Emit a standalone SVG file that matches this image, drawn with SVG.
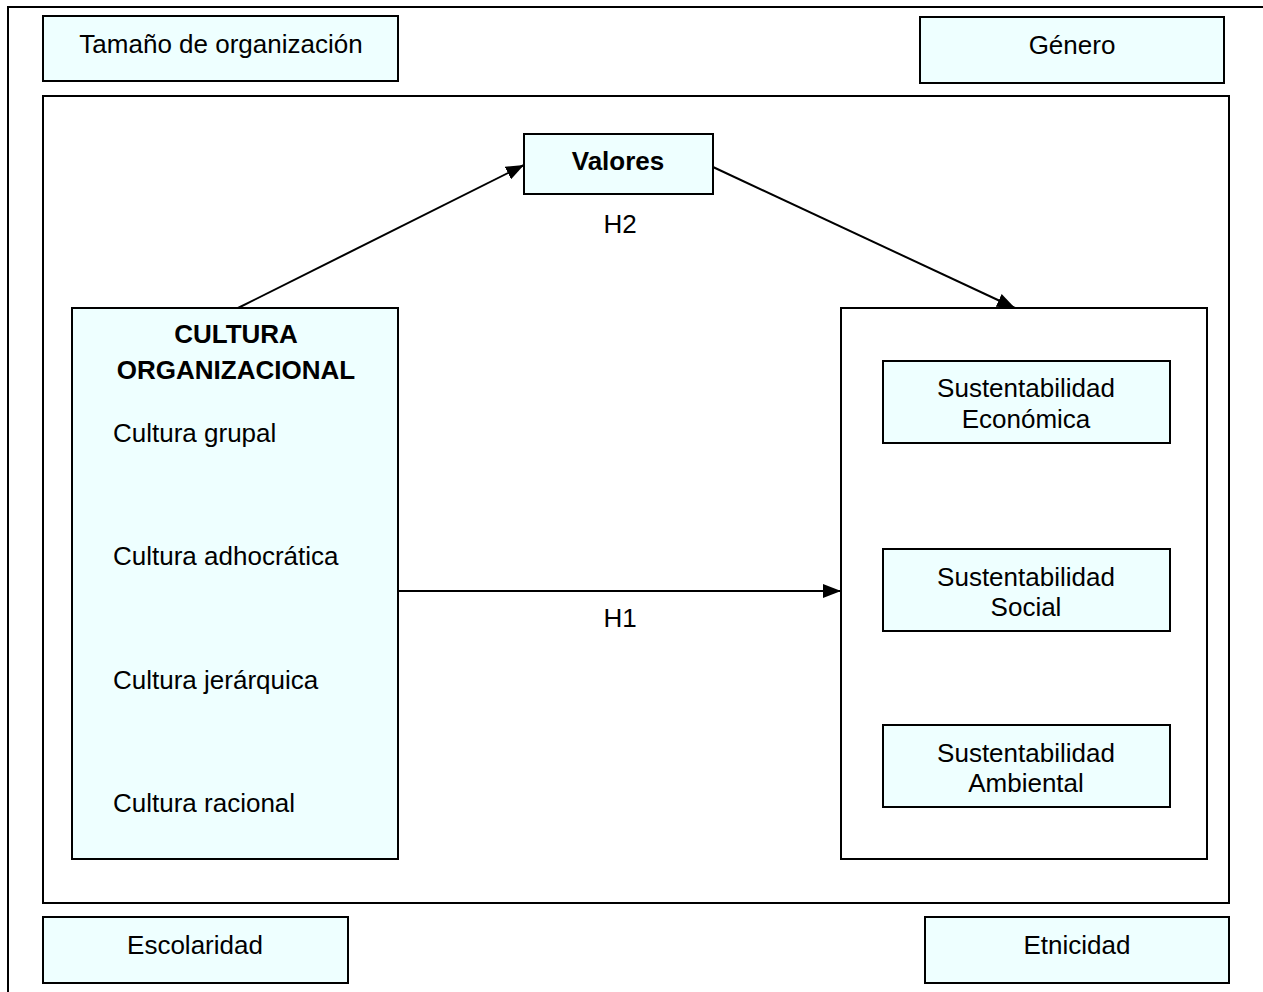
<svg xmlns="http://www.w3.org/2000/svg" width="1263" height="992" viewBox="0 0 1263 992">
<defs>
<marker id="arr" markerWidth="18" markerHeight="14" refX="18" refY="7" orient="auto" markerUnits="userSpaceOnUse">
<path d="M0,0 L18,7 L0,14 z" fill="#000"/>
</marker>
<style>
.box{fill:#EEFFFF;stroke:#000;stroke-width:2}
.frame{fill:none;stroke:#000;stroke-width:2}
.t{font-family:"Liberation Sans",Arial,sans-serif;font-size:26px;fill:#000}
.c{text-anchor:middle}
.b{font-weight:bold}
.conn{stroke:#000;stroke-width:2;fill:none}
</style>
</defs>
<rect width="1263" height="992" fill="#fff"/>
<rect class="frame" x="8" y="7" width="1270" height="1000"/>
<rect class="frame" x="43" y="96" width="1186" height="807"/>
<g id="tamano">
<rect class="box" x="43" y="16" width="355" height="65"/>
<text class="t c" x="221" y="53">Tamaño de organización</text>
</g>
<g id="genero">
<rect class="box" x="920" y="17" width="304" height="66"/>
<text class="t c" x="1072" y="54">Género</text>
</g>
<g id="valores">
<rect class="box" x="524" y="134" width="189" height="60"/>
<text class="t c b" x="618" y="170">Valores</text>
</g>
<g id="cultura">
<rect class="box" x="72" y="308" width="326" height="551"/>
<text class="t c b" x="236" y="343">CULTURA</text>
<text class="t c b" x="236" y="379">ORGANIZACIONAL</text>
<text class="t" x="113" y="442">Cultura grupal</text>
<text class="t" x="113" y="565">Cultura adhocrática</text>
<text class="t" x="113" y="689">Cultura jerárquica</text>
<text class="t" x="113" y="812">Cultura racional</text>
</g>
<g id="sustentabilidad">
<rect fill="#fff" stroke="#000" stroke-width="2" x="841" y="308" width="366" height="551"/>
</g>
<g id="economica">
<rect class="box" x="883" y="361" width="287" height="82"/>
<text class="t c" x="1026" y="397">Sustentabilidad</text>
<text class="t c" x="1026" y="428">Económica</text>
</g>
<g id="social">
<rect class="box" x="883" y="549" width="287" height="82"/>
<text class="t c" x="1026" y="586">Sustentabilidad</text>
<text class="t c" x="1026" y="616">Social</text>
</g>
<g id="ambiental">
<rect class="box" x="883" y="725" width="287" height="82"/>
<text class="t c" x="1026" y="762">Sustentabilidad</text>
<text class="t c" x="1026" y="792">Ambiental</text>
</g>
<g id="escolaridad">
<rect class="box" x="43" y="917" width="305" height="66"/>
<text class="t c" x="195" y="954">Escolaridad</text>
</g>
<g id="etnicidad">
<rect class="box" x="925" y="917" width="304" height="66"/>
<text class="t c" x="1077" y="954">Etnicidad</text>
</g>
<g id="connectors">
<line class="conn" x1="238" y1="308" x2="524" y2="165" marker-end="url(#arr)"/>
<line class="conn" x1="713" y1="167" x2="1015" y2="308" marker-end="url(#arr)"/>
<line class="conn" x1="398" y1="591" x2="841" y2="591" marker-end="url(#arr)"/>
<text class="t c" x="620" y="233">H2</text>
<text class="t c" x="620" y="627">H1</text>
</g>
</svg>
